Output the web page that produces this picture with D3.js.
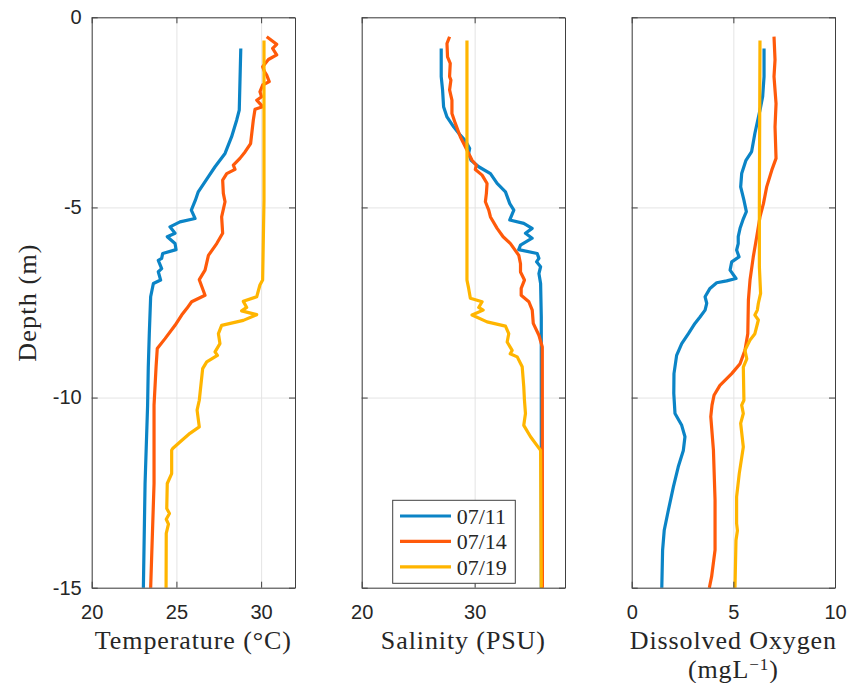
<!DOCTYPE html>
<html>
<head>
<meta charset="utf-8">
<script src="https://cdn.jsdelivr.net/npm/d3@7"></script>
<style>
body { margin: 0; background: #fff; }
</style>
</head>
<body>
<div id="chart"></div>
<script>
// profile dates (legend)
var dates = ["07/11", "07/14", "07/19"];

// each profile: [depth (m), value]
var temp0711 = [[-0.82,28.80],[-2.44,28.71],[-2.70,28.56],[-3.14,28.26],[-3.58,27.87],[-3.93,27.28],[-4.19,26.89],[-4.59,26.29],[-4.81,26.12],[-5.07,25.88],[-5.29,26.10],[-5.38,25.21],[-5.51,24.62],[-5.68,24.92],[-5.77,24.46],[-5.95,24.92],[-6.11,24.98],[-6.21,24.19],[-6.34,24.13],[-6.39,23.93],[-6.61,24.13],[-6.69,23.93],[-6.91,24.07],[-7.00,23.64],[-7.35,23.48],[-8.32,23.40],[-9.20,23.34],[-10.20,23.30],[-12.26,23.15],[-15.0,23.05]];
var temp0714 = [[-0.51,30.33],[-0.71,30.92],[-0.82,30.68],[-0.99,30.92],[-1.11,30.43],[-1.30,30.09],[-1.43,30.20],[-1.52,30.33],[-1.69,30.48],[-1.78,30.09],[-1.96,29.93],[-2.09,30.03],[-2.18,29.74],[-2.35,30.09],[-2.42,29.64],[-2.70,29.54],[-3.32,29.38],[-3.54,29.05],[-3.71,28.75],[-3.89,28.36],[-4.00,28.46],[-4.11,27.97],[-4.28,27.73],[-4.63,27.77],[-4.85,27.87],[-5.25,27.67],[-5.68,27.73],[-5.95,27.38],[-6.26,26.89],[-6.65,26.69],[-6.90,26.35],[-7.31,26.69],[-7.48,25.90],[-7.66,25.61],[-7.83,25.31],[-8.10,24.92],[-8.45,24.33],[-8.71,23.87],[-9.19,23.80],[-10.20,23.68],[-12.26,23.68],[-15.0,23.48]];
var temp0719 = [[-0.61,30.17],[-4.81,30.17],[-6.91,30.09],[-7.04,29.93],[-7.35,29.74],[-7.47,28.95],[-7.63,29.15],[-7.72,28.85],[-7.82,29.74],[-7.97,28.95],[-8.10,27.67],[-8.32,27.48],[-8.58,27.57],[-8.80,27.28],[-8.89,27.42],[-9.06,26.79],[-9.24,26.55],[-10.07,26.35],[-10.33,26.22],[-10.77,26.35],[-10.94,25.80],[-11.17,25.21],[-11.34,24.78],[-11.38,24.72],[-12.00,24.72],[-12.26,24.46],[-12.92,24.43],[-13.05,24.59],[-13.20,24.40],[-13.33,24.53],[-13.57,24.40],[-15.0,24.39]];

var sal0711 = [[-0.82,27.04],[-1.56,27.04],[-1.91,27.16],[-2.35,27.25],[-2.62,27.55],[-2.88,28.14],[-3.10,28.73],[-3.24,29.17],[-3.45,29.56],[-3.58,29.47],[-3.76,29.68],[-3.93,30.36],[-4.11,31.40],[-4.37,31.99],[-4.59,32.73],[-4.90,33.11],[-5.07,33.47],[-5.33,33.11],[-5.42,34.35],[-5.55,35.09],[-5.68,34.50],[-5.81,35.09],[-5.99,34.06],[-6.11,33.90],[-6.21,35.54],[-6.34,35.69],[-6.43,35.48],[-6.56,35.84],[-6.74,35.69],[-7.00,35.84],[-7.88,35.90],[-15.0,35.90]];
var sal0714 = [[-0.51,27.78],[-0.69,27.55],[-1.04,27.60],[-1.21,27.84],[-1.56,27.78],[-1.65,27.90],[-1.91,27.78],[-2.18,27.99],[-2.53,27.99],[-2.79,28.29],[-3.14,28.73],[-3.32,29.03],[-3.58,29.47],[-3.76,29.77],[-3.89,30.15],[-4.00,30.06],[-4.15,30.66],[-4.37,31.10],[-4.63,31.04],[-4.85,30.95],[-5.07,31.25],[-5.25,31.40],[-5.55,31.99],[-5.77,32.52],[-5.95,33.17],[-6.26,33.91],[-6.48,34.06],[-6.70,34.06],[-6.91,34.41],[-7.13,34.12],[-7.31,34.12],[-7.48,34.80],[-7.70,35.10],[-8.05,35.19],[-8.36,35.69],[-8.67,35.99],[-15.0,36.00]];
var sal0719 = [[-0.61,29.32],[-6.91,29.32],[-7.13,29.47],[-7.39,29.62],[-7.48,30.66],[-7.63,30.36],[-7.70,30.75],[-7.83,29.77],[-8.01,31.10],[-8.12,32.73],[-8.32,33.02],[-8.54,32.88],[-8.76,33.32],[-8.85,33.15],[-8.93,33.77],[-9.19,34.21],[-9.72,34.35],[-10.07,34.41],[-10.42,34.50],[-10.73,34.35],[-11.03,34.95],[-11.39,35.84],[-15.0,35.90]];

var do0711 = [[-0.82,6.51],[-1.56,6.51],[-2.09,6.44],[-2.44,6.31],[-3.05,6.06],[-3.53,5.90],[-3.76,5.62],[-4.11,5.41],[-4.46,5.36],[-4.81,5.52],[-5.11,5.64],[-5.33,5.47],[-5.55,5.33],[-5.77,5.24],[-5.95,5.24],[-6.12,5.16],[-6.30,5.28],[-6.43,4.92],[-6.65,4.84],[-6.87,5.13],[-6.93,4.67],[-6.98,4.18],[-7.13,3.85],[-7.35,3.61],[-7.52,3.69],[-7.70,3.61],[-7.88,3.36],[-8.05,3.11],[-8.32,2.79],[-8.58,2.46],[-8.89,2.21],[-9.37,2.08],[-9.89,2.07],[-10.42,2.13],[-10.73,2.46],[-11.03,2.62],[-11.39,2.54],[-11.82,2.29],[-12.35,2.05],[-12.97,1.80],[-13.49,1.60],[-14.01,1.52],[-15.0,1.48]];
var do0714 = [[-0.51,7.00],[-1.12,7.05],[-1.56,7.00],[-2.27,7.10],[-2.88,7.05],[-3.71,7.10],[-4.02,6.89],[-4.46,6.64],[-4.90,6.48],[-5.25,6.31],[-5.77,6.15],[-6.30,5.98],[-6.91,5.82],[-7.44,5.74],[-8.32,5.71],[-8.76,5.57],[-9.11,5.33],[-9.37,4.92],[-9.68,4.34],[-9.94,4.05],[-10.20,3.95],[-10.50,3.89],[-11.38,4.02],[-12.70,4.10],[-14.01,4.10],[-14.71,3.93],[-15.0,3.82]];
var do0719 = [[-0.61,6.31],[-4.81,6.28],[-6.56,6.28],[-7.26,6.34],[-7.52,6.23],[-7.70,6.18],[-7.83,6.06],[-7.96,6.23],[-8.32,6.06],[-8.49,5.82],[-8.76,5.57],[-8.98,5.66],[-9.20,5.49],[-10.07,5.52],[-10.20,5.41],[-10.42,5.49],[-10.68,5.36],[-11.30,5.49],[-12.00,5.29],[-12.61,5.16],[-13.31,5.16],[-13.50,5.20],[-13.75,5.13],[-15.0,5.08]];

// tick values
var depthTicks = [0, -5, -10, -15];
var tempTicks = [20, 25, 30];
var salTicks = [20, 30];
var doTicks = [0, 5, 10];

var colors = ["#0b84c6", "#ff5a0a", "#ffb500"];

var panels = [
    { series: [temp0711, temp0714, temp0719], xlim: [20, 32], ticks: tempTicks, label: "Temperature (°C)" },
    { series: [sal0711, sal0714, sal0719], xlim: [20, 38], ticks: salTicks, label: "Salinity (PSU)" },
    { series: [do0711, do0714, do0719], xlim: [0, 10], ticks: doTicks, label: "Dissolved Oxygen" }
];

var panelX = [91.7, 361.7, 631.7];
var panelW = 203.3;
var plotTop = 17.3, plotH = 570.4;
var tickFont = "'Liberation Sans'";
var texFont = "'Liberation Serif'";

//Make an SVG Container
var svgContainer = d3.select("#chart").append("svg")
                     .attr("width", 852)
                     .attr("height", 683)
                     .style("background", "#fff");

var y = d3.scaleLinear().domain([-15, 0]).range([plotTop + plotH, plotTop]);

panels.forEach(function(p, i) {
    var x = d3.scaleLinear().domain(p.xlim).range([0, panelW]);
    var g = svgContainer.append("g")
               .attr("transform", "translate(" + panelX[i] + ",0)");

    // grid
    var grid = g.append("g");
    grid.append("g")
        .attr("transform", "translate(0," + plotTop + ")")
        .call(d3.axisBottom(x).tickValues(p.ticks).tickSize(plotH).tickFormat(""));
    grid.append("g")
        .call(d3.axisLeft(y).tickValues(depthTicks).tickSize(-panelW).tickFormat(""));
    grid.selectAll(".domain").remove();
    grid.selectAll("line").attr("stroke", "#e4e4e4").attr("stroke-width", 1);

    // profiles
    var line = d3.line()
                 .x(d => x(d[1]))
                 .y(d => y(d[0]));
    g.append("g")
        .selectAll("path")
        .data(p.series)
        .enter()
        .append("path")
        .attr("d", line)
        .attr("fill", "none")
        .attr("stroke", (d, k) => colors[k])
        .attr("stroke-width", 3.2)
        .attr("stroke-linejoin", "round")
        .attr("stroke-linecap", "butt");

    // box with inward ticks
    var box = g.append("g");
    box.append("g")
        .attr("transform", "translate(0," + (plotTop + plotH) + ")")
        .call(d3.axisBottom(x).tickValues(p.ticks).tickSizeInner(-6).tickSizeOuter(0).tickPadding(17));
    box.append("g")
        .attr("transform", "translate(0," + plotTop + ")")
        .call(d3.axisTop(x).tickValues(p.ticks).tickSizeInner(-6).tickSizeOuter(0).tickFormat(""));
    var left = box.append("g")
        .call(d3.axisLeft(y).tickValues(depthTicks).tickSizeInner(-6).tickSizeOuter(0).tickPadding(10)
                .tickFormat(i == 0 ? d3.format("d") : ""));
    box.append("g")
        .attr("transform", "translate(" + panelW + ",0)")
        .call(d3.axisRight(y).tickValues(depthTicks).tickSizeInner(-6).tickSizeOuter(0).tickFormat(""));

    box.selectAll(".domain, .tick line").attr("stroke", "#404040").attr("stroke-width", 1);
    box.selectAll(".tick text")
        .style("font-family", tickFont)
        .style("font-size", "20px")
        .attr("fill", "#262626");
    if (i == 0) left.selectAll(".tick text").text(d => String(d));

    // x label
    g.append("text")
        .attr("x", panelW / 2)
        .attr("y", 649)
        .attr("text-anchor", "middle")
        .style("font-family", texFont)
        .style("font-size", "26px")
        .style("letter-spacing", "0.9px")
        .attr("fill", "#262626")
        .text(p.label);
    if (i == 2) {
        var t2 = g.append("text")
            .attr("x", panelW / 2)
            .attr("y", 678)
            .attr("text-anchor", "middle")
            .style("font-family", texFont)
            .style("font-size", "26px")
            .style("letter-spacing", "0.9px")
            .attr("fill", "#262626");
        t2.append("tspan").text("(mgL");
        t2.append("tspan").attr("dy", -8).style("font-size", "17px").text("−1");
        t2.append("tspan").attr("dy", 8).text(")");
    }

    // legend in the middle panel
    if (i == 1) {
        var lg = g.append("g").attr("transform", "translate(31,500.3)");
        lg.append("rect")
            .attr("width", 122.6)
            .attr("height", 83)
            .attr("fill", "#fff")
            .attr("stroke", "#404040")
            .attr("stroke-width", 1);
        var rows = lg.selectAll(".row")
            .data(dates)
            .enter()
            .append("g")
            .attr("transform", (d, k) => "translate(0," + (15.7 + k * 25.4) + ")");
        rows.append("line")
            .attr("x1", 7.3).attr("x2", 58.3)
            .attr("stroke", (d, k) => colors[k])
            .attr("stroke-width", 3.2);
        rows.append("text")
            .attr("x", 64)
            .attr("dy", "0.35em")
            .style("font-family", texFont)
            .style("font-size", "22px")
            .attr("fill", "#262626")
            .text(d => d);
    }
});

// y label
svgContainer.append("text")
    .attr("transform", "translate(36," + (plotTop + plotH / 2) + ") rotate(-90)")
    .attr("text-anchor", "middle")
    .style("font-family", texFont)
    .style("font-size", "26px")
    .style("letter-spacing", "1.2px")
    .attr("fill", "#262626")
    .text("Depth (m)");
</script>
</body>
</html>
